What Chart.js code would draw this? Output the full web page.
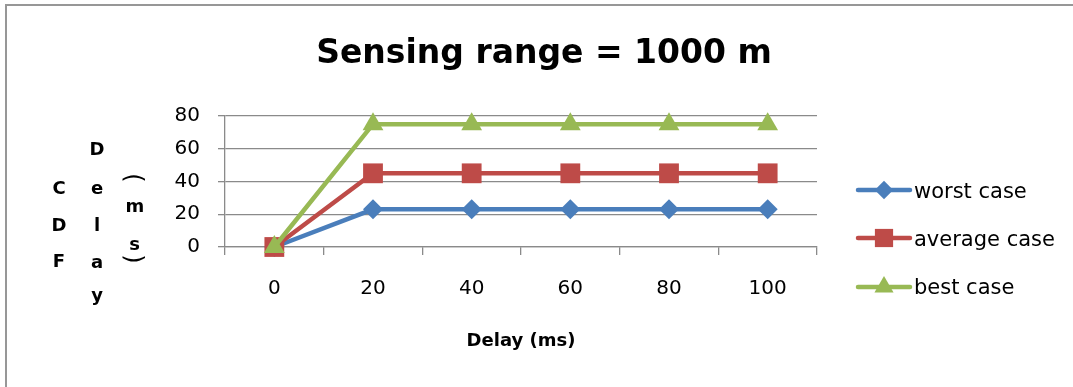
<!DOCTYPE html>
<html>
<head>
<meta charset="utf-8">
<script src="https://cdn.jsdelivr.net/npm/chart.js@4"></script>
<style>
  html, body { margin: 0; padding: 0; background: #fff; overflow: hidden; }
  canvas { display: block; }
</style>
</head>
<body>
<canvas id="c" width="1073" height="387"></canvas>
<script>
// Delay categories (ms) and CDF values per scenario
const categories = ['0', '20', '40', '60', '80', '100'];
const worstCase = [0, 23, 23, 23, 23, 23];
const averageCase = [0, 45, 45, 45, 45, 45];
const bestCase = [0, 75, 75, 75, 75, 75];
const seriesNames = ['worst case', 'average case', 'best case'];
const yTickValues = [0, 20, 40, 60, 80];

const FONT = '"DejaVu Sans", sans-serif';
const GRID = '#8a8a8a';

// Outer frame of the chart object (only its top and left edges fall inside the canvas)
const frame = {
  id: 'frame',
  beforeDraw(chart) {
    const ctx = chart.ctx;
    ctx.save();
    ctx.strokeStyle = '#979797';
    ctx.lineWidth = 2;
    ctx.beginPath();
    ctx.moveTo(6, chart.height + 2);
    ctx.lineTo(6, 5);
    ctx.lineTo(chart.width + 2, 5);
    ctx.stroke();
    ctx.restore();
  }
};

// Text overlays: title, stacked y-axis title, x-axis title, legend
const overlay = {
  id: 'overlay',
  afterDraw(chart) {
    const ctx = chart.ctx;
    ctx.save();
    ctx.fillStyle = '#000';
    ctx.textAlign = 'center';
    ctx.textBaseline = 'alphabetic';

    // chart title
    ctx.font = 'bold 33px ' + FONT;
    ctx.fillText('Sensing range = 1000 m', 544, 63);

    // x-axis title
    ctx.font = 'bold 18px ' + FONT;
    ctx.fillText('Delay (ms)', 521, 346);

    // y-axis title, written as stacked letters in three columns
    ctx.font = 'bold 18px ' + FONT;
    [['C', 194], ['D', 231], ['F', 267]].forEach(([t, y]) => ctx.fillText(t, 59, y));
    [['D', 155], ['e', 194], ['l', 231], ['a', 268], ['y', 301]].forEach(([t, y]) => ctx.fillText(t, 97, y));
    ctx.fillText('m', 135, 212);
    ctx.fillText('s', 134.5, 250);
    // parentheses turned a quarter turn
    ctx.font = '24px ' + FONT;
    ctx.textBaseline = 'middle';
    [['(', 178], [')', 259]].forEach(([t, y]) => {
      ctx.save();
      ctx.translate(132, y);
      ctx.rotate(Math.PI / 2);
      ctx.fillText(t, 0, 0);
      ctx.restore();
    });

    // legend: line sample with marker, then label
    const lineRows = [190, 238, 287];
    const textRows = [198, 246, 294];
    chart.data.datasets.forEach((ds, i) => {
      const y = lineRows[i];
      ctx.strokeStyle = ds.borderColor;
      ctx.lineWidth = 4.5;
      ctx.lineCap = 'round';
      ctx.beginPath();
      ctx.moveTo(858, y);
      ctx.lineTo(910, y);
      ctx.stroke();
      ctx.fillStyle = ds.pointBackgroundColor;
      ctx.strokeStyle = ds.pointBackgroundColor;
      Chart.helpers.drawPoint(ctx, {
        pointStyle: ds.pointStyle, radius: ds.pointRadius * 0.92,
        rotation: 0, borderWidth: 0
      }, 884, y);
      ctx.fillStyle = '#000';
      ctx.textAlign = 'left';
      ctx.textBaseline = 'alphabetic';
      ctx.font = '21px ' + FONT;
      ctx.fillText(ds.label, 914, textRows[i]);
    });
    ctx.restore();
  }
};

function series(label, data, color, style, radius, order) {
  return {
    label, data, order,
    borderColor: color,
    backgroundColor: color,
    pointBackgroundColor: color,
    pointBorderColor: color,
    pointBorderWidth: 0,
    pointStyle: style,
    pointRadius: radius,
    pointHoverRadius: radius,
    borderWidth: 4.5,
    tension: 0,
    clip: false
  };
}

new Chart(document.getElementById('c'), {
  type: 'line',
  data: {
    labels: categories,
    datasets: [
      series(seriesNames[0], worstCase, '#4A7EBB', 'rectRot', 10, 3),
      series(seriesNames[1], averageCase, '#BE4B48', 'rect', 14, 2),
      series(seriesNames[2], bestCase, '#98B954', 'triangle', 12, 1)
    ]
  },
  options: {
    responsive: false,
    animation: false,
    events: [],
    layout: { padding: { left: 150, top: 116, right: 256, bottom: 80 } },
    plugins: { legend: { display: false }, title: { display: false }, tooltip: { enabled: false } },
    scales: {
      x: {
        offset: true,
        grid: { display: true, offset: true, drawOnChartArea: false, drawTicks: true,
                tickLength: 8, color: GRID, lineWidth: 1.3 },
        border: { display: true, color: GRID, width: 1.3 },
        ticks: { color: '#000', font: { family: FONT, size: 20 }, padding: 22, maxRotation: 0 },
        afterFit(scale) { scale.height = 60; }
      },
      y: {
        min: 0, max: 80,
        afterBuildTicks(scale) { scale.ticks = yTickValues.map(v => ({ value: v })); },
        grid: { color: GRID, lineWidth: 1.3, tickLength: 7, drawTicks: true },
        border: { display: true, color: GRID, width: 1.3 },
        ticks: { color: '#000', font: { family: FONT, size: 20 }, padding: 18 },
        afterFit(scale) { scale.width = 75; }
      }
    }
  },
  plugins: [frame, overlay]
});
</script>
</body>
</html>
